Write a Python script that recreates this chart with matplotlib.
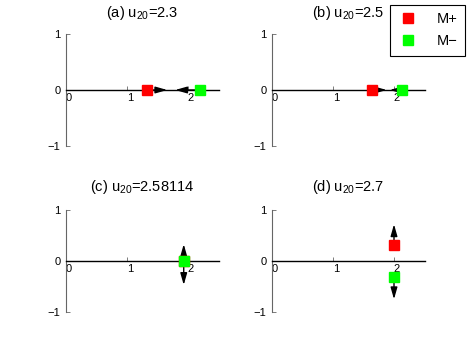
import matplotlib
matplotlib.use("Agg")
import matplotlib.pyplot as plt
import matplotlib.transforms as mtransforms

plt.rcParams['font.family'] = ['Liberation Sans', 'DejaVu Sans']

# --- data --------------------------------------------------------------
panel_tags = ["(a)", "(b)", "(c)", "(d)"]
u20 = ["2.3", "2.5", "2.58114", "2.7"]

mplus_x = [1.33, 1.64, 1.93, 2.00]
mplus_y = [0.0, 0.0, 0.0, 0.31]
mminus_x = [2.20, 2.13, 1.93, 2.00]
mminus_y = [0.0, 0.0, 0.0, -0.31]

# arrow tips (direction each equilibrium moves)
plus_tip_x = [1.66, 1.88, 1.93, 2.00]
plus_tip_y = [0.0, 0.0, 0.33, 0.72]
minus_tip_x = [1.79, 1.93, 1.93, 2.00]
minus_tip_y = [0.0, 0.0, -0.47, -0.75]

xticks = [0, 1, 2]
yticks = [-1, 0, 1]
ytick_labels = ["\u22121", "0", "1"]

W, H = 467, 351
fig = plt.figure(figsize=(W / 100, H / 100), dpi=100)

# axes rectangles in pixels: (left, top, width, height)
rects = [(66, 34, 152.5, 112), (272, 34, 152.5, 112),
         (66, 210, 152.5, 102), (272, 210, 152.5, 102)]
title_pads = [12.5, 12.5, 13.5, 13.5]

RED, GREEN = "#ff0000", "#00ff00"
handles = None
for i, (l, t, w, h) in enumerate(rects):
    ax = fig.add_axes([l / W, (H - t - h) / H, w / W, h / H])
    ax.set_xlim(0, 2.5)
    ax.set_ylim(-1, 1)
    ax.patch.set_visible(False)
    for s in ("top", "right"):
        ax.spines[s].set_visible(False)
    ax.spines["left"].set_position(("data", 0))
    ax.spines["bottom"].set_position(("data", 0))
    ax.spines["left"].set_color("#666666")
    ax.spines["left"].set_linewidth(0.8)
    ax.spines["bottom"].set_color("black")
    ax.spines["bottom"].set_linewidth(1.0)

    ax.set_xticks(xticks)
    ax.set_xticklabels([str(v) for v in xticks])
    ax.set_yticks(yticks)
    ax.set_yticklabels(ytick_labels)
    ax.tick_params(axis="both", direction="in", length=3, width=0.6,
                   color="#666666", labelsize=8, pad=2)
    ax.tick_params(axis="y", pad=4)
    shift = mtransforms.ScaledTranslation(3 / 100, 0, fig.dpi_scale_trans)
    for lab in ax.get_xticklabels():
        lab.set_transform(lab.get_transform() + shift)

    ax.set_title(rf"{panel_tags[i]} u$_{{\mathregular{{20}}}}$={u20[i]}",
                 fontsize=10.5, pad=title_pads[i])

    shaft = "black" if i < 2 else "#888888"
    for (x0, y0, x1, y1) in [(mplus_x[i], mplus_y[i], plus_tip_x[i], plus_tip_y[i]),
                             (mminus_x[i], mminus_y[i], minus_tip_x[i], minus_tip_y[i])]:
        ax.annotate("", xy=(x1, y1), xytext=(x0, y0),
                    arrowprops=dict(arrowstyle="-|>,head_length=0.7,head_width=0.2",
                                    color=shaft, fc="black", ec="black",
                                    lw=1.0, shrinkA=0, shrinkB=0), zorder=2)

    hp, = ax.plot(mplus_x[i], mplus_y[i], "s", color=RED, ms=7, mec=RED,
                  label="M+", zorder=3)
    hm, = ax.plot(mminus_x[i], mminus_y[i], "s", color=GREEN, ms=7, mec=GREEN,
                  label="M\u2212", zorder=3)
    if handles is None:
        handles = [hp, hm]

leg = fig.legend(handles=handles, loc="upper right",
                 bbox_to_anchor=(465 / W, 1 - 5 / H), borderaxespad=0,
                 fontsize=10.5, fancybox=False, edgecolor="black",
                 framealpha=1, handlelength=1.5, borderpad=0.5,
                 labelspacing=0.55, handletextpad=1.2)
leg.get_frame().set_linewidth(0.8)

fig.savefig("out.png", dpi=100)
